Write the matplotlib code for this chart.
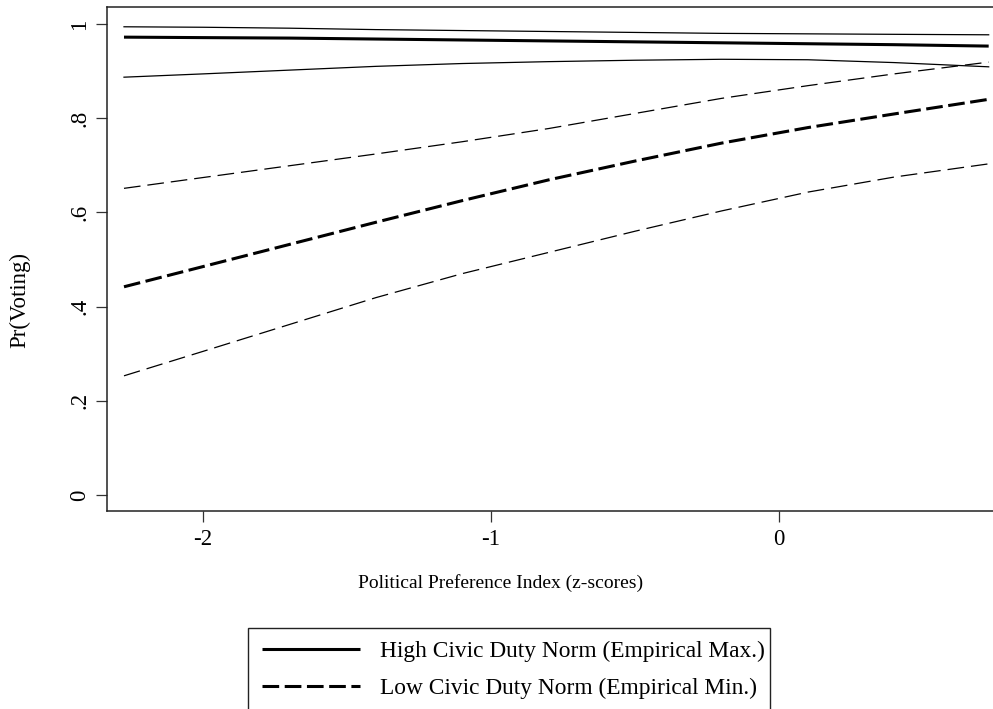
"""Predicted Pr(Voting) across the political preference index, by civic duty norm."""

import matplotlib

matplotlib.use("Agg")

import matplotlib.pyplot as plt  # noqa: E402
from matplotlib.patches import Rectangle  # noqa: E402

plt.rcParams["font.family"] = ["Liberation Serif", "DejaVu Serif"]
plt.rcParams["lines.scale_dashes"] = False

# z-score grid the predictions were read at
pref_z = [-2.275, -2.0, -1.7, -1.4, -1.1, -0.8, -0.5, -0.2, 0.1, 0.4, 0.728]

# high civic duty norm: prediction and 95% band
high_mean = [0.972, 0.971, 0.970, 0.968, 0.966, 0.964, 0.962, 0.960, 0.958, 0.956, 0.953]
high_upper = [0.994, 0.993, 0.991, 0.988, 0.986, 0.984, 0.982, 0.980, 0.979, 0.978, 0.977]
high_lower = [0.887, 0.894, 0.902, 0.910, 0.916, 0.920, 0.923, 0.925, 0.924, 0.918, 0.909]

# low civic duty norm: prediction and 95% band
low_mean = [0.442, 0.485, 0.532, 0.579, 0.625, 0.669, 0.709, 0.747, 0.780, 0.809, 0.840]
low_upper = [0.651, 0.674, 0.699, 0.724, 0.750, 0.778, 0.810, 0.842, 0.869, 0.894, 0.919]
low_lower = [0.253, 0.305, 0.362, 0.419, 0.470, 0.515, 0.560, 0.603, 0.643, 0.675, 0.703]

x_ticks = [-2, -1, 0]
x_ticklabels = ["-2", "-1", "0"]
y_ticks = [0, 0.2, 0.4, 0.6, 0.8, 1]
y_ticklabels = ["0", ".2", ".4", ".6", ".8", "1"]

legend_labels = [
    "High Civic Duty Norm (Empirical Max.)",
    "Low Civic Duty Norm (Empirical Min.)",
]

W, H = 993, 709
FS_TICK = 16.5
FS_TITLE = 14
FS_LEG = 16.8
THICK, THIN = 2.2, 0.9
DASH_THICK = (0, (12, 4))
DASH_THIN = (0, (12, 5))

fig = plt.figure(figsize=(W / 100, H / 100), dpi=100)
ax = fig.add_axes([107 / W, 1 - 511 / H, (W - 107) / W, (511 - 7) / H])

solid, = ax.plot(pref_z, high_mean, color="black", lw=THICK, solid_capstyle="butt")
ax.plot(pref_z, high_upper, color="black", lw=THIN)
ax.plot(pref_z, high_lower, color="black", lw=THIN)
dashed, = ax.plot(pref_z, low_mean, color="black", lw=THICK, ls=DASH_THICK, dash_capstyle="butt")
ax.plot(pref_z, low_upper, color="black", lw=THIN, ls=DASH_THIN)
ax.plot(pref_z, low_lower, color="black", lw=THIN, ls=DASH_THIN)

ax.set_xlim(-2.334, 0.743)
ax.set_ylim(-0.034, 1.036)
ax.set_xticks(x_ticks, x_ticklabels)
ax.set_yticks(y_ticks, y_ticklabels)
ax.tick_params(axis="both", direction="out", length=8, width=0.9, labelsize=FS_TICK, color="#333333")
ax.tick_params(axis="x", pad=5)
ax.tick_params(axis="y", pad=4)
for lab in ax.get_yticklabels():
    lab.set_rotation(90)
    lab.set_va("center")
for side in ("left", "bottom", "top"):
    ax.spines[side].set_linewidth(1.1)
    ax.spines[side].set_color("#222222")
ax.spines["right"].set_visible(False)

fig.text(20 / W, 1 - 300 / H, "Pr(Voting)", rotation=90, ha="center", va="center", fontsize=FS_TICK)
fig.text(501 / W, 1 - 583 / H, "Political Preference Index (z-scores)",
         ha="center", va="center", fontsize=FS_TITLE)

# legend box runs off the bottom of the picture, as in the source
fig.patches.append(Rectangle((248 / W, 1 - 720 / H), (770 - 248) / W, (720 - 628) / H,
                             transform=fig.transFigure, fill=False, lw=1.0,
                             edgecolor="#222222", clip_on=False))
fig.legend([solid, dashed], legend_labels, loc="upper left",
           bbox_to_anchor=(253 / W, 1 - 631 / H), frameon=False, fontsize=FS_LEG,
           handlelength=4.2, handletextpad=0.85, labelspacing=0.7, borderaxespad=0)

fig.savefig("out.png", dpi=100)
